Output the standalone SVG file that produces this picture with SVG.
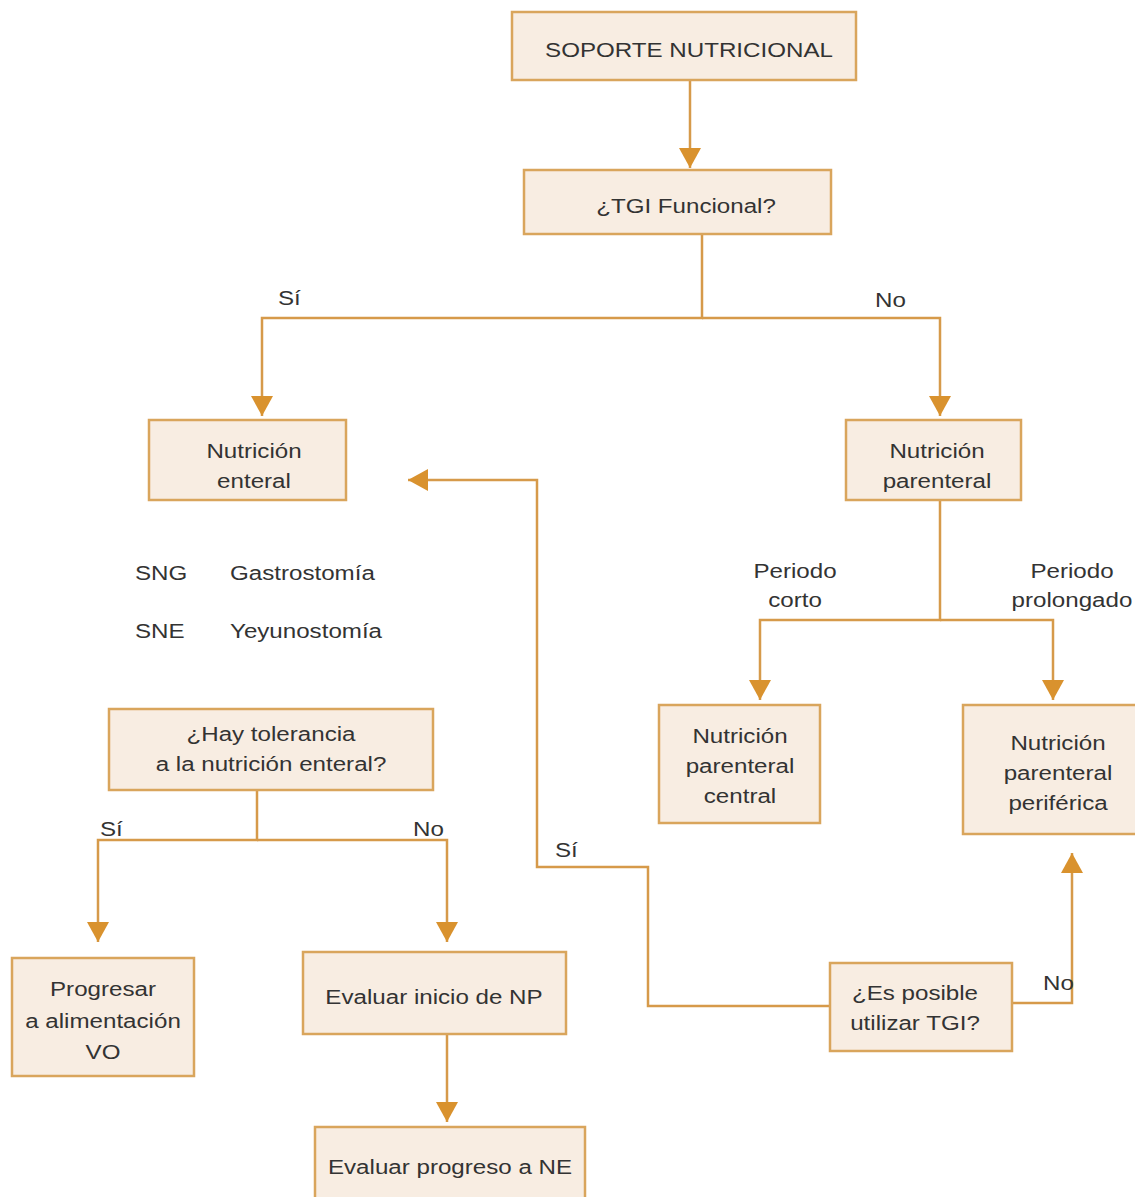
<svg xmlns="http://www.w3.org/2000/svg" width="1135" height="1197" viewBox="0 0 1135 1197">
<style>
.box{fill:#f8ede2;stroke:#d9a55c;stroke-width:2.5}
.ln{fill:none;stroke:#d69a4a;stroke-width:2.5}
text{font-family:"Liberation Sans",Arial,sans-serif;font-size:21px;fill:#333}
.c{text-anchor:middle}
</style>
<defs>
<marker id="ah" markerUnits="userSpaceOnUse" markerWidth="24" markerHeight="24" refX="20" refY="11" orient="auto">
<path d="M0,0 L20,11 L0,22 z" fill="#d9922e"/>
</marker>
</defs>
<rect width="1135" height="1197" fill="#ffffff"/>
<g id="connectors">
<path class="ln" d="M690,80 V168" marker-end="url(#ah)"/>
<path class="ln" d="M702,234 V318 H262 V416" marker-end="url(#ah)"/>
<path class="ln" d="M702,318 H940 V416" marker-end="url(#ah)"/>
<path class="ln" d="M940,500 V620 H760 V700" marker-end="url(#ah)"/>
<path class="ln" d="M940,620 H1053 V700" marker-end="url(#ah)"/>
<path class="ln" d="M830,1006 H648 V867 H537 V480 H408" marker-end="url(#ah)"/>
<path class="ln" d="M1012,1003 H1072 V853" marker-end="url(#ah)"/>
<path class="ln" d="M257,790 V840 H98 V942" marker-end="url(#ah)"/>
<path class="ln" d="M257,840 H447 V942" marker-end="url(#ah)"/>
<path class="ln" d="M447,1034 V1122" marker-end="url(#ah)"/>
<text transform="translate(278 305) scale(1.15 1)">Sí</text>
<text transform="translate(875 307) scale(1.15 1)">No</text>
<text class="c" transform="translate(795 578) scale(1.15 1)">Periodo</text>
<text class="c" transform="translate(795 607) scale(1.15 1)">corto</text>
<text class="c" transform="translate(1072 578) scale(1.15 1)">Periodo</text>
<text class="c" transform="translate(1072 607) scale(1.15 1)">prolongado</text>
<text transform="translate(555 857) scale(1.15 1)">Sí</text>
<text transform="translate(1043 990) scale(1.15 1)">No</text>
<text transform="translate(100 836) scale(1.15 1)">Sí</text>
<text transform="translate(413 836) scale(1.15 1)">No</text>
</g>
<g id="n1"><rect class="box" x="512" y="12" width="344" height="68"/>
<text class="c" transform="translate(689 57) scale(1.15 1)">SOPORTE NUTRICIONAL</text></g>
<g id="n2"><rect class="box" x="524" y="170" width="307" height="64"/>
<text class="c" transform="translate(686 213) scale(1.15 1)">¿TGI Funcional?</text></g>
<g id="n3"><rect class="box" x="149" y="420" width="197" height="80"/>
<text class="c" transform="translate(254 458) scale(1.15 1)">Nutrición</text>
<text class="c" transform="translate(254 488) scale(1.15 1)">enteral</text></g>
<g id="n4"><rect class="box" x="846" y="420" width="175" height="80"/>
<text class="c" transform="translate(937 458) scale(1.15 1)">Nutrición</text>
<text class="c" transform="translate(937 488) scale(1.15 1)">parenteral</text></g>
<g id="legend">
<text transform="translate(135 580) scale(1.15 1)">SNG</text>
<text transform="translate(230 580) scale(1.15 1)">Gastrostomía</text>
<text transform="translate(135 638) scale(1.15 1)">SNE</text>
<text transform="translate(230 638) scale(1.15 1)">Yeyunostomía</text>
</g>
<g id="n5"><rect class="box" x="659" y="705" width="161" height="118"/>
<text class="c" transform="translate(740 743) scale(1.15 1)">Nutrición</text>
<text class="c" transform="translate(740 773) scale(1.15 1)">parenteral</text>
<text class="c" transform="translate(740 803) scale(1.15 1)">central</text></g>
<g id="n6"><rect class="box" x="963" y="705" width="180" height="129"/>
<text class="c" transform="translate(1058 750) scale(1.15 1)">Nutrición</text>
<text class="c" transform="translate(1058 780) scale(1.15 1)">parenteral</text>
<text class="c" transform="translate(1058 810) scale(1.15 1)">periférica</text></g>
<g id="n7"><rect class="box" x="830" y="963" width="182" height="88"/>
<text class="c" transform="translate(915 1000) scale(1.15 1)">¿Es posible</text>
<text class="c" transform="translate(915 1030) scale(1.15 1)">utilizar TGI?</text></g>
<g id="n8"><rect class="box" x="109" y="709" width="324" height="81"/>
<text class="c" transform="translate(271 741) scale(1.15 1)">¿Hay tolerancia</text>
<text class="c" transform="translate(271 771) scale(1.15 1)">a la nutrición enteral?</text></g>
<g id="n9"><rect class="box" x="12" y="958" width="182" height="118"/>
<text class="c" transform="translate(103 996) scale(1.15 1)">Progresar</text>
<text class="c" transform="translate(103 1028) scale(1.15 1)">a alimentación</text>
<text class="c" transform="translate(103 1059) scale(1.15 1)">VO</text></g>
<g id="n10"><rect class="box" x="303" y="952" width="263" height="82"/>
<text class="c" transform="translate(434 1004) scale(1.15 1)">Evaluar inicio de NP</text></g>
<g id="n11"><rect class="box" x="315" y="1127" width="270" height="80"/>
<text class="c" transform="translate(450 1174) scale(1.15 1)">Evaluar progreso a NE</text></g>
</svg>
